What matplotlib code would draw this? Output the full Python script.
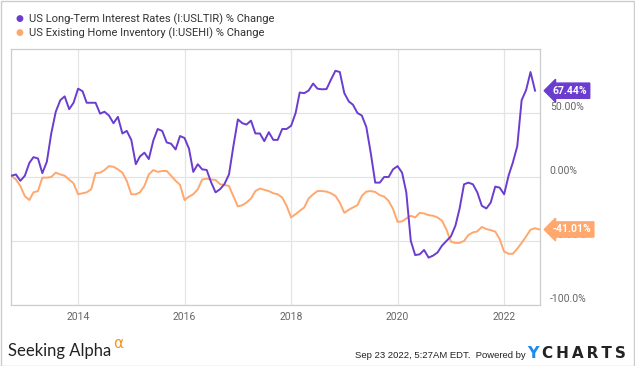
import numpy as np
import pandas as pd
import matplotlib.pyplot as plt
import matplotlib.dates as mdates
from matplotlib.transforms import ScaledTranslation
from matplotlib.patches import Rectangle

plt.rcParams['font.family'] = ['Roboto', 'DejaVu Sans']

# monthly % change values (Oct 2012 onward)
rates_pct = [1, 2, -3, 1, 11, 15.5, 14.5, 3, 12, 34, 51, 60, 63, 53, 58, 69, 67, 58, 58, 58,
             49.5, 51, 48, 42, 47, 34, 36, 29, 10, 16, 19, 14, 28.5, 37.5, 36, 27, 26, 21.5, 32, 30.5,
             22, 4, 10, 6, 5.5, -4, -12, -9.5, -5.5, 2, 24, 45, 42, 41, 44, 34, 34, 28, 35, 29,
             29, 37.5, 37.5, 40, 50, 66, 65.5, 67.5, 73, 69,
             68.5, 68.7, 76, 83, 82, 65.5, 59, 56.5, 50, 48, 39, 19, -4.4, -4.4, 0, 0, 6, 8.5, 3.4, -12,
             -50, -61, -60.4, -57, -63, -61.4, -59, -53.6, -50, -46.4, -38, -25, -5.7, -4.4, -5.7,
             -12, -22.5, -24.6, -20, -7.5, -8.3, -13.5, 1.3, 11, 24, 60, 68, 82, 67.44]

inventory_pct = [1, -2, -7, -15, -18, -12, -11, -0.5, -0.5, 0, 3.4, 2, 1, -2, -5, -13.5, -12.7, -12, -9.6, 3,
                 3.4, 5.4, 8.5, 8, 6, 3.4, -3, -13.5, -13.5, -12, -7, 2, 5.4, 4, 4.7, 4.7, 1, -3, -6, -18,
                 -15.3, -13.5, -9.6, -2, -1.3, -2, -2.3, -5.7, -6.2, -7, -15, -23, -22, -20, -16.8,
                 -11, -9, -10, -11, -12.7, -13.5, -16, -22.5, -31.6, -29, -26.4, -23.8, -16.8, -13.5, -11,
                 -11, -11.4, -12.7, -14.8, -20, -28, -25.6, -23.8, -22, -14.8, -11.4, -11, -11.7, -14.2, -15.3,
                 -18.7, -25, -35, -34.7, -32.4, -30.3, -31.6, -28, -28.5, -29.8, -30.3, -31.6, -34.2, -41, -50.5,
                 -51.5, -51.5, -50, -45.3, -43.3, -42.5, -39, -40.7, -41.5, -42.7, -48.4, -58.3, -60, -60, -56,
                 -51.5, -46.4, -41.2, -40, -41.01]

rates_dates = pd.date_range('2012-10-01', periods=len(rates_pct), freq='MS')
inv_dates = pd.date_range('2012-10-01', periods=len(inventory_pct), freq='MS')

legend_labels = ['US Long-Term Interest Rates (I:USLTIR) % Change',
                 'US Existing Home Inventory (I:USEHI) % Change']
ytick_vals = [-100, -50, 0, 50]
ytick_labels = ['-100.0%', '-50.00%', '0.00%', '50.00%']
xtick_years = [2014, 2016, 2018, 2020, 2022]

purple = '#6a3dcf'
orange = '#ffa76d'
gray_txt = '#666666'

fig = plt.figure(figsize=(6.35, 3.66), dpi=100)
ax = fig.add_axes([11/635, 61/366, 529/635, 256/366])

ax.plot(rates_dates, rates_pct, color=purple, lw=1.4, zorder=3)
ax.plot(inv_dates, inventory_pct, color=orange, lw=1.4, zorder=2)

ax.set_xlim(pd.Timestamp('2012-09-28'), pd.Timestamp('2022-09-04'))
ax.set_ylim(-100, 100)

ax.set_xticks([pd.Timestamp(f'{y}-01-01') for y in xtick_years])
ax.xaxis.set_major_formatter(mdates.DateFormatter('%Y'))
ax.yaxis.tick_right()
ax.set_yticks(ytick_vals)
ax.set_yticklabels(ytick_labels)
ax.tick_params(axis='both', length=0, colors=gray_txt, labelsize=7.5)
ax.tick_params(axis='y', pad=7)
ax.tick_params(axis='x', pad=5)
for lab in ax.get_yticklabels():
    lab.set_horizontalalignment('left')
    lab.set_transform(lab.get_transform() + ScaledTranslation(0, 5/72, fig.dpi_scale_trans))

ax.grid(True, color='#e4e4e4', lw=0.9)
ax.set_axisbelow(True)
for s in ax.spines.values():
    s.set_color('#cccccc')
    s.set_linewidth(0.9)

# value tags at right edge (they cover the -50% label as in the original)
for val, col, txt in [(rates_pct[-1], purple, f'{rates_pct[-1]:.2f}%'),
                      (inventory_pct[-1], orange, f'{inventory_pct[-1]:.2f}%')]:
    t = ax.text(1.0, val, txt, transform=ax.get_yaxis_transform(), color='white',
                fontsize=7.5, fontweight='bold', va='center', ha='left', zorder=5,
                bbox=dict(boxstyle='larrow,pad=0.25', fc=col, ec=col))
    t.set_transform(t.get_transform() + ScaledTranslation(9/72, 0, fig.dpi_scale_trans))

# legend
for i, (lab, col) in enumerate(zip(legend_labels, [purple, orange])):
    y = 1 - 19/366 - i * 14/366
    fig.text(19/635, y, '\u25cf', color=col, fontsize=6.5, va='center', ha='center')
    fig.text(29/635, y, lab, color='#333333', fontsize=8, va='center', ha='left')

# footer
fig.text(8/635, 1 - 351/366, 'Seeking Alpha', fontsize=12, color='#222222', va='center', ha='left',
         family=['Lato', 'DejaVu Sans'])
fig.text(113/635, 1 - 344/366, '\u03b1', fontsize=11, color='#f7941d', va='center', ha='left',
         family=['DejaVu Sans'])
fig.text(526/635, 1 - 355.5/366, 'Sep 23 2022, 5:27AM EDT.  Powered by', fontsize=6.8,
         color='#222222', va='center', ha='right', family=['Liberation Sans'])
fig.text(527/635, 1 - 354/366, 'Y', fontsize=11.5, color='#1b8bf0', fontweight='bold', va='center', ha='left',
         family=['DejaVu Sans'])
fig.text(542/635, 1 - 354/366, 'C\u2009H\u2009A\u2009R\u2009T\u2009S', fontsize=11, color='#222222',
         fontweight='bold', va='center', ha='left', family=['DejaVu Sans'])

# outer frame
fig.patches.append(Rectangle((0.5/635, 0.5/366), 633.5/635, 364.5/366, transform=fig.transFigure,
                             fill=False, ec='#cccccc', lw=1))

fig.savefig('out.png', dpi=100)
